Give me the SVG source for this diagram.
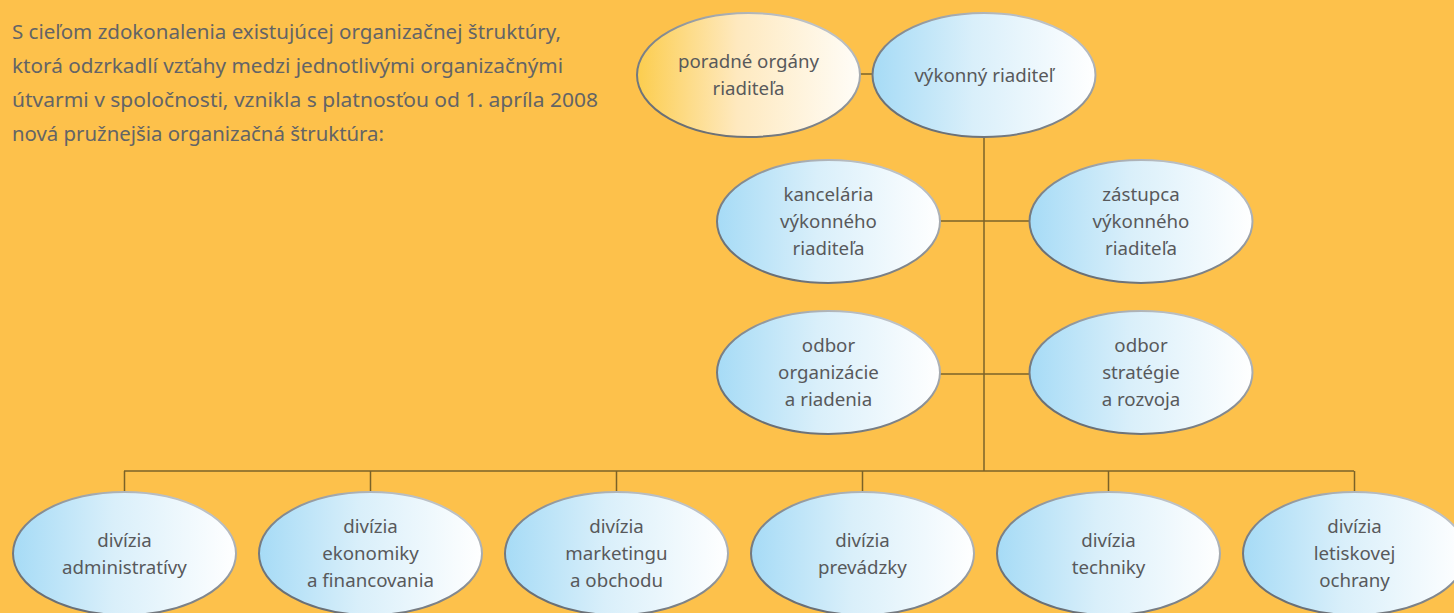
<svg xmlns="http://www.w3.org/2000/svg" width="1454" height="613" viewBox="0 0 1454 613">
  <defs>
    <linearGradient id="blueFill" x1="0" y1="0" x2="1" y2="0">
      <stop offset="0" stop-color="#a6dbf6"/>
      <stop offset="0.45" stop-color="#d9effa"/>
      <stop offset="1" stop-color="#ffffff"/>
    </linearGradient>
    <linearGradient id="yellowFill" x1="0" y1="0" x2="1" y2="0">
      <stop offset="0" stop-color="#fccd4e"/>
      <stop offset="0.45" stop-color="#fee9bf"/>
      <stop offset="1" stop-color="#fffdf8"/>
    </linearGradient>
    <linearGradient id="edge" x1="0.1" y1="1" x2="0.9" y2="0">
      <stop offset="0" stop-color="#63686e"/>
      <stop offset="0.5" stop-color="#83898f"/>
      <stop offset="1" stop-color="#cdd1d5"/>
    </linearGradient>
  </defs>
  <style>
    .bg { fill: #fdc14b; }
    .node { stroke: url(#edge); stroke-width: 2; }
    .blue { fill: url(#blueFill); }
    .yellow { fill: url(#yellowFill); }
    .lbl { font-family: "Noto Sans", "Open Sans", "DejaVu Sans", sans-serif; font-size: 18.7px; fill: #58595b; text-anchor: middle; }
    .intro { font-family: "Noto Sans", "Open Sans", "DejaVu Sans", sans-serif; font-size: 20.5px; fill: #636466; }
    .conn { stroke: #7a6228; stroke-width: 1.5; fill: none; }
  </style>
  <rect class="bg" x="0" y="0" width="1454" height="613"/>

  <g id="intro-text">
    <text class="intro" x="12" y="39" textLength="549" lengthAdjust="spacingAndGlyphs">S cieľom zdokonalenia existujúcej organizačnej štruktúry,</text>
    <text class="intro" x="12" y="73" textLength="551" lengthAdjust="spacingAndGlyphs">ktorá odzrkadlí vzťahy medzi jednotlivými organizačnými</text>
    <text class="intro" x="12" y="107" textLength="586" lengthAdjust="spacingAndGlyphs">útvarmi v spoločnosti, vznikla s platnosťou od 1. apríla 2008</text>
    <text class="intro" x="12" y="141" textLength="372" lengthAdjust="spacingAndGlyphs">nová pružnejšia organizačná štruktúra:</text>
  </g>

  <g id="connectors">
    <line class="conn" x1="860" y1="74" x2="873" y2="74"/>
    <line class="conn" x1="984" y1="137" x2="984" y2="471"/>
    <line class="conn" x1="940" y1="221" x2="1030" y2="221"/>
    <line class="conn" x1="940" y1="374" x2="1030" y2="374"/>
    <line class="conn" x1="124" y1="471" x2="1354" y2="471"/>
    <line class="conn" x1="124.5" y1="471" x2="124.5" y2="492"/>
    <line class="conn" x1="370.5" y1="471" x2="370.5" y2="492"/>
    <line class="conn" x1="616.5" y1="471" x2="616.5" y2="492"/>
    <line class="conn" x1="862.5" y1="471" x2="862.5" y2="492"/>
    <line class="conn" x1="1108.5" y1="471" x2="1108.5" y2="492"/>
    <line class="conn" x1="1354.5" y1="471" x2="1354.5" y2="492"/>
  </g>

  <g id="poradne-organy">
    <ellipse class="node yellow" cx="748.5" cy="75" rx="111.5" ry="62"/>
    <text class="lbl" x="748.5" y="68">poradné orgány</text>
    <text class="lbl" x="748.5" y="95">riaditeľa</text>
  </g>
  <g id="vykonny-riaditel">
    <ellipse class="node blue" cx="984" cy="75" rx="111.5" ry="62"/>
    <text class="lbl" x="984" y="82">výkonný riaditeľ</text>
  </g>

  <g id="kancelaria">
    <ellipse class="node blue" cx="828.5" cy="221.5" rx="111.5" ry="61.5"/>
    <text class="lbl" x="828.5" y="201">kancelária</text>
    <text class="lbl" x="828.5" y="228">výkonného</text>
    <text class="lbl" x="828.5" y="255">riaditeľa</text>
  </g>
  <g id="zastupca">
    <ellipse class="node blue" cx="1141" cy="221.5" rx="111.5" ry="61.5"/>
    <text class="lbl" x="1141" y="201">zástupca</text>
    <text class="lbl" x="1141" y="228">výkonného</text>
    <text class="lbl" x="1141" y="255">riaditeľa</text>
  </g>

  <g id="odbor-organizacie">
    <ellipse class="node blue" cx="828.5" cy="372.5" rx="111.5" ry="61.5"/>
    <text class="lbl" x="828.5" y="352">odbor</text>
    <text class="lbl" x="828.5" y="379">organizácie</text>
    <text class="lbl" x="828.5" y="406">a riadenia</text>
  </g>
  <g id="odbor-strategie">
    <ellipse class="node blue" cx="1141" cy="372.5" rx="111.5" ry="61.5"/>
    <text class="lbl" x="1141" y="352">odbor</text>
    <text class="lbl" x="1141" y="379">stratégie</text>
    <text class="lbl" x="1141" y="406">a rozvoja</text>
  </g>

  <g id="divizia-administrativy">
    <ellipse class="node blue" cx="124.5" cy="553.5" rx="111.5" ry="61.5"/>
    <text class="lbl" x="124.5" y="547">divízia</text>
    <text class="lbl" x="124.5" y="574">administratívy</text>
  </g>
  <g id="divizia-ekonomiky">
    <ellipse class="node blue" cx="370.5" cy="553.5" rx="111.5" ry="61.5"/>
    <text class="lbl" x="370.5" y="533">divízia</text>
    <text class="lbl" x="370.5" y="560">ekonomiky</text>
    <text class="lbl" x="370.5" y="587">a financovania</text>
  </g>
  <g id="divizia-marketingu">
    <ellipse class="node blue" cx="616.5" cy="553.5" rx="111.5" ry="61.5"/>
    <text class="lbl" x="616.5" y="533">divízia</text>
    <text class="lbl" x="616.5" y="560">marketingu</text>
    <text class="lbl" x="616.5" y="587">a obchodu</text>
  </g>
  <g id="divizia-prevadzky">
    <ellipse class="node blue" cx="862.5" cy="553.5" rx="111.5" ry="61.5"/>
    <text class="lbl" x="862.5" y="547">divízia</text>
    <text class="lbl" x="862.5" y="574">prevádzky</text>
  </g>
  <g id="divizia-techniky">
    <ellipse class="node blue" cx="1108.5" cy="553.5" rx="111.5" ry="61.5"/>
    <text class="lbl" x="1108.5" y="547">divízia</text>
    <text class="lbl" x="1108.5" y="574">techniky</text>
  </g>
  <g id="divizia-letiskovej-ochrany">
    <ellipse class="node blue" cx="1354.5" cy="553.5" rx="111.5" ry="61.5"/>
    <text class="lbl" x="1354.5" y="533">divízia</text>
    <text class="lbl" x="1354.5" y="560">letiskovej</text>
    <text class="lbl" x="1354.5" y="587">ochrany</text>
  </g>
</svg>
